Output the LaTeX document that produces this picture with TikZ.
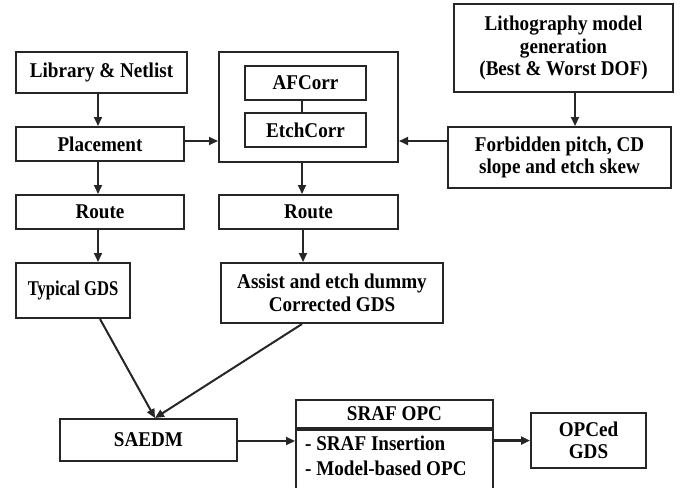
\documentclass[tikz,border=0pt]{standalone}
\usepackage{fontspec}
\setmainfont{Liberation Serif}[FakeStretch=0.91]
\newfontfamily\narrowserif{Liberation Serif}[FakeStretch=0.79]
\usetikzlibrary{arrows.meta}
\begin{document}
\begin{tikzpicture}[x=1pt,y=-1pt,
  box/.style={draw=black!85, line width=2pt, inner sep=0pt, align=center,
    font=\fontsize{21}{22.5}\selectfont\bfseries},
  txt/.style={inner sep=0pt, font=\fontsize{21}{22.5}\selectfont\bfseries},
  arr/.style={draw=black!85, line width=2pt, -{Triangle[length=9pt,width=8pt]}},
  thickarr/.style={draw=black!85, line width=3pt, -{Triangle[length=9pt,width=8pt]}},
  link/.style={draw=black!85, line width=1.6pt}]
\useasboundingbox (0,0) rectangle (690,487);
\clip (0,0) rectangle (690,487);

% left column
\node[box, minimum width=171, minimum height=41] (lib) at (101.5,72.5) {Library \& Netlist};
\node[box, minimum width=168, minimum height=34] (place) at (100,144) {Placement};
\node[box, minimum width=168, minimum height=34] (routeL) at (100,212) {Route};
\node[box, minimum width=114, minimum height=55, font=\narrowserif\fontsize{21}{22.5}\selectfont\bfseries] (typ) at (73,290.5) {Typical GDS};

% correction block
\node[box, minimum width=179, minimum height=110] (big) at (308.5,107) {};
\node[box, minimum width=121, minimum height=34] (af) at (305.5,83) {AFCorr};
\node[box, minimum width=121, minimum height=34] (etch) at (305.5,130) {EtchCorr};
\node[box, minimum width=179, minimum height=34] (routeM) at (308.5,212) {Route};
\node[box, minimum width=222, minimum height=60] (assist) at (332,293) {Assist and etch dummy\\Corrected GDS};

% lithography branch
\node[box, minimum width=219, minimum height=88] (litho) at (563.5,48) {Lithography model\\generation\\(Best \& Worst DOF)};
\node[box, minimum width=223, minimum height=61] (forb) at (559.5,157.5) {Forbidden pitch, CD\\slope and etch skew};

% bottom row
\node[box, minimum width=177, minimum height=42] (saedm) at (148.5,440) {SAEDM};
\node[box, minimum width=197, minimum height=28, anchor=north] (srafhd) at (394.5,399) {SRAF OPC};
\node[box, minimum width=197, minimum height=70, anchor=north] (srafbd) at (srafhd.south) {};
\node[txt, anchor=base west] (srafa) at (305,450) {- SRAF Insertion};
\node[txt, anchor=base west] (srafb) at (305,475) {- Model-based OPC};
\node[box, minimum width=115, minimum height=55] (opc) at (588.5,440.5) {OPCed\\GDS};

% connectors
\draw[arr] ([xshift=-3.5pt]lib.south) -- ([xshift=-2pt]place.north);
\draw[arr] ([yshift=3pt]place.east) coordinate (pe) -- (pe -| big.west);
\draw[arr] ([xshift=-2pt]place.south) -- ([xshift=-2pt]routeL.north);
\draw[arr] ([xshift=-2pt]routeL.south) -- ([xshift=25pt]typ.north);
\draw[link] ([xshift=-3.5pt]af.south) -- ([xshift=-3.5pt]etch.north);
\draw[arr] ([xshift=-6.5pt]big.south) -- ([xshift=-6.5pt]routeM.north);
\draw[arr] ([xshift=-5.5pt]routeM.south) -- ([xshift=-29pt]assist.north);
\draw[arr] ([xshift=11.5pt]litho.south) -- ([xshift=15.5pt]forb.north);
\draw[arr] ([yshift=16.5pt]forb.west) coordinate (fw) -- (fw -| big.east);
\draw[arr] ([xshift=27pt]typ.south) -- ([xshift=6.5pt]saedm.north);
\draw[arr] ([xshift=-30pt]assist.south) -- ([xshift=6.5pt]saedm.north);
\draw[arr] ([yshift=-1pt]saedm.east) coordinate (se) -- (se -| srafbd.west);
\draw[thickarr] (srafbd.east |- opc.west) -- (opc.west);
\end{tikzpicture}
\end{document}
